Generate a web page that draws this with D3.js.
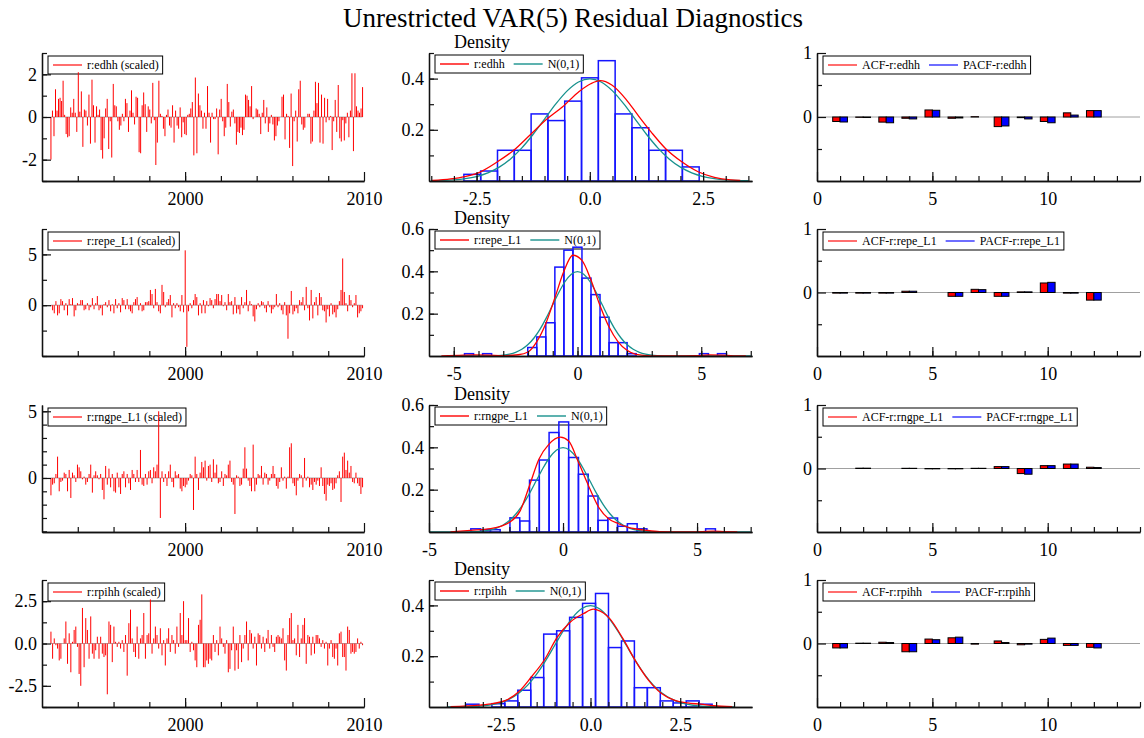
<!DOCTYPE html>
<html lang="en">
<head>
<meta charset="UTF-8" />
<title>Unrestricted VAR(5) Residual Diagnostics</title>
<script src="https://d3js.org/d3.v7.min.js"></script>
<style>
  html, body { margin: 0; background: #fff; }
  svg { display: block; font-family: "Liberation Serif", "Times New Roman", serif; }
</style>
</head>
<body>
<svg id="chart" width="1144" height="738"></svg>
<script>
// ---- data ----
const names = ['edhh', 'repe_L1', 'rngpe_L1', 'rpihh'];

// scaled residuals, monthly, 1992(7) .. 2009(12)
const tsStart = 1992.5, tsEnd = 2009.92;
const resEdhh = [-2.0,0.3,-0.9,1.3,0.3,0.85,0.9,0.75,1.7,0.1,-0.8,-0.95,-0.9,0.45,0.2,0.85,0.2,-0.7,2.1,0.25,1.2,-1.4,0.35,0.3,-0.4,1.05,-1.25,1.75,0.55,-1.2,0.5,0.1,0.35,-1.55,-1.95,-1.0,0.4,0.85,-1.5,-0.2,-1.9,1.55,0.55,0.5,-0.2,-0.6,-0.4,0.15,-0.2,0.85,0.65,-0.7,0.3,1.25,0.2,-0.35,0.95,0.9,-1.65,-1.7,0.55,1.15,0.6,-0.7,0.5,0.35,-0.3,1.6,-0.15,-2.25,-1.2,1.7,0.15,0.05,-0.55,-0.9,0.1,0.35,-0.4,-0.5,0.55,-1.2,0.3,-0.4,-0.55,0.45,-0.95,-0.25,-0.8,-0.85,0.1,0.15,0.4,0.7,-1.8,1.85,-1.7,1.1,0.55,0.3,-0.55,0.2,-0.55,1.45,0.2,-1.2,0.2,-0.1,-0.1,0.4,-1.75,0.35,0.85,-0.2,-0.9,-0.5,1.55,0.7,-0.45,0.25,0.35,-0.3,-1.3,-0.7,-0.75,-0.5,-0.85,-0.6,1.05,1.0,0.8,0.5,1.45,-0.1,0.0,0.4,0.35,0.15,-0.8,0.2,0.8,-0.3,0.45,-0.7,-0.3,0.1,-0.35,-1.1,-0.9,-0.4,-0.2,0.0,0.95,1.05,-1.05,0.15,0.05,-1.45,1.1,-2.3,-0.2,0.3,-1.15,1.3,1.7,-0.35,-0.6,-0.5,0.0,0.15,0.15,-1.25,-1.15,0.3,1.65,0.65,1.6,-1.2,1.05,-1.25,0.9,-0.25,0.85,-0.15,0.05,-1.55,-0.2,0.8,-0.7,1.5,-1.0,-1.15,-0.15,-1.1,-0.3,0.2,-0.95,0.3,2.05,-1.6,2.05,0.5,0.3,0.2,0.4,1.4];
const resRepe = [-0.1,-0.5,-0.8,0.4,-1.0,-0.8,0.6,0.4,-0.5,0.2,-1.0,0.6,0.1,0.7,-1.1,-0.5,0.2,0.1,0.5,0.5,-0.5,-0.4,0.2,-0.5,-0.2,0.7,-0.4,0.2,0.9,-0.5,-0.3,-1.0,0.1,0.3,-0.2,0.5,-0.6,0.1,-0.8,0.6,-0.3,0.2,-0.7,0.7,0.5,-0.4,0.6,-0.4,-0.6,-0.8,0.3,0.6,0.8,-0.5,0.2,-0.6,-0.5,0.3,0.3,0.4,1.5,1.1,-0.3,1.6,0.3,-0.6,-0.8,2.0,1.3,-0.2,0.3,0.6,1.0,-1.2,0.2,-0.3,0.2,-0.2,-0.6,1.0,-0.7,5.4,-4.1,-0.6,0.2,-0.3,0.5,1.1,0.8,-1.0,0.2,-0.8,0.5,-0.8,0.4,-0.1,0.7,0.5,-0.3,0.6,1.1,1.1,0.4,1.0,-0.1,0.3,-0.5,1.1,0.3,0.4,-0.9,0.8,-0.8,-0.4,-0.9,0.8,-0.3,0.3,1.5,-0.6,0.4,0.1,-1.1,-1.6,-0.4,0.2,-0.2,0.4,0.3,-0.3,-0.7,0.4,-0.2,-0.8,-0.4,-0.2,1.1,-0.2,0.2,-0.5,-0.9,0.3,-1.0,-3.3,-0.8,1.4,-0.9,-0.6,-0.3,-0.8,0.5,0.3,0.8,-0.5,1.8,-0.3,-1.5,1.5,-1.3,0.3,0.8,-1.0,1.2,0.8,-0.5,-0.6,-1.7,-0.4,-1.1,0.2,-0.9,-0.7,-1.2,-0.4,0.4,1.5,4.6,1.3,0.2,-0.6,1.0,0.5,-0.2,0.2,1.0,-1.2,-0.8,-0.6,-0.3];
const resRngpe = [-1.3,-0.5,-0.4,0.3,1.6,-1.0,-0.3,-0.2,0.4,0.3,-1.0,0.6,-1.5,0.4,0.2,-0.3,1.0,0.8,0.5,-0.1,0.1,-0.5,-0.3,0.3,1.0,-1.1,0.2,0.5,0.2,-0.1,0.3,-0.9,-1.6,0.9,-0.5,0.7,-0.7,0.3,-1.0,-1.1,0.4,-0.7,-1.2,0.3,0.5,-0.7,0.3,-0.4,-0.9,0.6,0.3,-0.3,0.6,-0.3,2.1,-0.5,-0.6,0.3,-0.5,0.5,0.6,-0.4,0.8,0.5,1.0,5.0,-3.0,0.5,-0.3,0.3,-0.6,0.5,1.0,-0.3,-0.7,0.5,0.2,0.3,-0.8,-1.0,-0.6,-0.7,-0.5,-0.2,0.3,0.2,-2.4,1.6,0.3,-0.9,0.4,1.2,0.8,1.3,-0.2,0.9,1.0,-0.3,1.4,0.4,1.0,-0.4,-0.3,0.5,-0.6,0.3,0.2,1.0,1.3,-0.3,-0.5,-2.7,0.2,0.1,-0.6,-0.5,0.7,2.3,0.7,-0.2,-0.6,-1.0,2.5,-1.0,-0.5,0.3,0.2,0.9,-0.5,0.4,0.3,-0.5,-0.2,0.3,0.9,0.3,-0.6,-0.8,-0.3,0.8,-0.2,0.1,-0.8,0.1,2.3,2.6,-0.4,-0.6,-1.3,-0.2,0.3,0.2,-0.7,1.5,-0.2,0.1,-0.7,-0.5,-0.9,-0.3,-0.5,-0.2,-0.6,0.8,-0.6,-1.2,-1.7,-0.5,-0.6,-0.4,-0.9,-0.8,-0.4,0.2,0.5,-1.8,1.6,1.9,0.6,1.3,0.4,0.9,-0.3,-0.4,0.4,-0.4,-0.6,-1.2,-0.7];
const resRpihh = [0.7,-0.9,0.3,-0.1,-0.3,-1.0,-0.9,0.0,0.3,1.3,-1.2,0.6,-1.7,0.1,0.8,1.0,-0.2,-1.8,-2.5,2.1,-1.4,1.5,0.8,-0.9,1.6,-0.6,-0.9,-0.4,0.4,-0.9,0.4,-0.6,-0.8,-0.7,-3.0,1.3,1.1,-1.1,1.0,0.1,-0.2,0.1,-0.3,0.2,-0.5,0.5,-1.9,1.2,2.0,0.3,-0.5,-0.8,1.0,-0.9,0.3,0.5,1.8,-0.9,0.5,0.6,2.6,-0.6,0.3,1.0,0.5,-0.3,0.9,-0.7,0.2,-1.3,0.3,0.9,-0.5,0.5,0.2,-0.6,1.0,-0.2,1.8,0.5,2.5,0.2,0.2,1.5,-0.5,0.1,-0.4,-1.0,-1.4,1.1,1.4,2.9,-1.4,-1.4,-1.0,-1.2,-0.9,-1.0,0.5,-0.5,0.2,-0.7,1.0,0.3,-0.2,-0.6,0.2,-1.7,-1.5,-0.4,1.0,-1.6,-0.4,-1.5,0.5,-1.1,-0.3,0.5,1.3,-1.0,0.8,0.6,-0.3,0.4,-1.3,0.6,0.5,-0.3,0.4,-0.5,0.3,0.8,-0.3,0.5,-0.2,-0.5,0.4,0.5,0.4,0.3,0.9,-1.0,-1.6,0.5,1.5,1.8,0.2,0.3,-0.7,1.1,-0.8,0.3,1.1,1.5,-1.2,0.5,0.4,-0.7,0.4,-0.6,0.5,0.5,0.3,-0.2,0.2,-0.3,0.1,-1.3,-0.3,0.2,-0.8,-0.9,-0.3,-1.3,0.6,0.7,-0.8,-0.8,-1.6,1.0,0.8,-0.6,-0.5,-0.6,-0.5,0.3,-0.3,0.1,-0.1];

// histograms: first bin edge, bin width, densities
const histStart = [-2.78, -4.565, -3.44, -3.47];
const histWidth = [0.371, 0.365, 0.365, 0.361];
const histEdhh = [0.026,0.039,0.12,0.12,0.262,0.236,0.312,0.403,0.47,0.262,0.208,0.12,0.12,0.055];
const histRepe = [0.011,0,0.011,0,0,0,0,0.04,0.09,0.157,0.42,0.50,0.514,0.368,0.29,0.183,0.063,0.063,0.011,0,0,0,0,0,0,0,0.011,0,0.011];
const histRngpe = [0.015,0.011,0.011,0,0.067,0.052,0.245,0.34,0.47,0.52,0.352,0.273,0.17,0.055,0.066,0.027,0.039,0.015,0,0,0,0,0,0,0.015];
const histRpihh = [0.011,0,0.013,0.024,0.066,0.116,0.287,0.30,0.353,0.408,0.447,0.234,0.26,0.076,0.076,0.024,0.016,0.024,0.011];

// estimated densities (red)
const kdeXEdhh = [-3.48,-3.07,-2.76,-2.45,-2.04,-1.68,-1.32,-0.96,-0.60,-0.235,0.02,0.23,0.485,0.795,1.05,1.36,1.67,2.03,2.39,2.75,3.11,3.32];
const kdeYEdhh = [0.002,0.008,0.017,0.033,0.075,0.12,0.18,0.24,0.29,0.35,0.38,0.392,0.375,0.32,0.26,0.19,0.127,0.075,0.036,0.014,0.004,0.002];
const kdeXRepe = [-5.5,-4.6,-4.2,-3.6,-3.0,-2.4,-2.0,-1.65,-1.28,-0.92,-0.55,-0.19,0.18,0.54,0.9,1.27,1.64,2.0,2.36,3.0,4.0,4.8,5.3,5.8,6.3,6.8];
const kdeYRepe = [0.0,0.004,0.005,0.004,0.002,0.006,0.019,0.067,0.154,0.273,0.40,0.476,0.452,0.36,0.241,0.138,0.067,0.027,0.008,0.001,0.0,0.002,0.005,0.004,0.001,0.0];
const kdeXRngpe = [-4.2,-3.45,-2.7,-2.3,-1.98,-1.6,-1.25,-0.9,-0.53,-0.1,0.21,0.58,0.95,1.33,1.7,2.07,2.4,2.8,3.1,3.6,4.5,5.2,5.6,6.0,6.5];
const kdeYRngpe = [0.001,0.008,0.016,0.028,0.047,0.10,0.22,0.344,0.414,0.448,0.43,0.328,0.219,0.117,0.0625,0.039,0.023,0.013,0.008,0.002,0.0,0.002,0.004,0.002,0.0];
const kdeXRpihh = [-3.9,-3.1,-2.7,-2.36,-2.0,-1.65,-1.29,-0.93,-0.56,-0.19,0.08,0.18,0.53,0.9,1.27,1.62,1.98,2.35,2.7,3.07,3.43,3.95];
const kdeYRpihh = [0.001,0.007,0.014,0.026,0.06,0.118,0.184,0.274,0.335,0.368,0.385,0.382,0.349,0.27,0.178,0.105,0.053,0.026,0.016,0.011,0.005,0.001];

// N(0,1) reference curve (teal)
const normX = [-6,-5,-4,-3.5,-3,-2.75,-2.5,-2.25,-2,-1.75,-1.5,-1.25,-1,-0.75,-0.5,-0.25,0,0.25,0.5,0.75,1,1.25,1.5,1.75,2,2.25,2.5,2.75,3,3.5,4,5,6,7];
const normY = [0,0,0.0001,0.0009,0.0044,0.0091,0.0175,0.0317,0.054,0.0863,0.1295,0.1826,0.242,0.3011,0.352,0.3867,0.399,0.3867,0.352,0.3011,0.242,0.1826,0.1295,0.0863,0.054,0.0317,0.0175,0.0091,0.0044,0.0009,0.0001,0,0,0];
const normRange = [[-3.4, 3.1], [-5.2, 6.8], [-4.4, 6.8], [-3.9, 4.0]];

// correlograms, lags 1..12
const acfEdhh  = [-0.07,-0.005,-0.08,-0.02,0.11,-0.02,0.005,-0.15,-0.01,-0.07,0.065,0.1];
const pacfEdhh = [-0.078,-0.008,-0.09,-0.03,0.105,-0.015,0.0,-0.14,-0.03,-0.09,0.03,0.1];
const acfRepe  = [-0.01,-0.01,-0.01,0.02,0.0,-0.06,0.05,-0.06,0.01,0.15,-0.01,-0.12];
const pacfRepe = [-0.01,-0.01,-0.01,0.02,0.0,-0.06,0.045,-0.06,0.01,0.16,-0.01,-0.12];
const acfRngpe  = [0.0,0.005,0.0,0.003,-0.005,-0.005,0.003,0.03,-0.08,0.045,0.07,0.02];
const pacfRngpe = [0.0,0.005,0.0,0.003,-0.005,-0.005,0.003,0.03,-0.09,0.045,0.07,0.015];
const acfRpihh  = [-0.07,0.005,0.02,-0.13,0.07,0.09,-0.01,0.04,-0.02,0.065,-0.03,-0.06];
const pacfRpihh = [-0.07,0.005,0.015,-0.13,0.06,0.1,0.0,0.015,-0.01,0.085,-0.03,-0.07];

const residuals = [resEdhh, resRepe, resRngpe, resRpihh];
const hists = [histEdhh, histRepe, histRngpe, histRpihh];
const kdeX = [kdeXEdhh, kdeXRepe, kdeXRngpe, kdeXRpihh];
const kdeY = [kdeYEdhh, kdeYRepe, kdeYRngpe, kdeYRpihh];
const acfs = [acfEdhh, acfRepe, acfRngpe, acfRpihh];
const pacfs = [pacfEdhh, pacfRepe, pacfRngpe, pacfRpihh];

// ---- layout ----
const rowTop = [53, 229, 405, 580];
const rowBot = [181, 356, 532, 707];
const RED = '#ff0000', BLUE = '#0000ff', TEAL = '#17918d';

const svg = d3.select('#chart');
const panelLayer = svg.append('g');
const axisLayer = svg.append('g');

svg.append('text')
  .attr('x', 573).attr('y', 27)
  .attr('text-anchor', 'middle')
  .attr('font-size', 27)
  .text('Unrestricted VAR(5) Residual Diagnostics');

const fmtInt = d => String(d);
const fmt1 = d => d.toFixed(1);

function styleAxis(sel) {
  sel.attr('font-family', null).attr('font-size', 18);
  sel.selectAll('path.domain').attr('stroke', '#111').attr('stroke-width', 1.3);
  sel.selectAll('line').attr('stroke', '#111').attr('stroke-width', 1.2);
  sel.selectAll('text').attr('fill', '#000');
}

// axes go into their own layer, drawn above every panel
function drawAxes(x, y, o) {
  const g = axisLayer.append('g');
  const x0 = x.range()[0], y0 = y.range()[0];
  g.append('g').attr('transform', `translate(${x0},0)`)
    .call(d3.axisLeft(y).tickValues(o.yMinor).tickSize(-5).tickSizeOuter(0).tickFormat(''))
    .call(styleAxis);
  g.append('g').attr('transform', `translate(${x0},0)`)
    .call(d3.axisLeft(y).tickValues(o.yMajor).tickSize(-9).tickSizeOuter(0).tickPadding(5).tickFormat(o.yFmt))
    .call(styleAxis);
  g.append('g').attr('transform', `translate(0,${y0})`)
    .call(d3.axisBottom(x).tickValues(o.xMinor).tickSize(-5).tickSizeOuter(0).tickFormat(''))
    .call(styleAxis);
  g.append('g').attr('transform', `translate(0,${y0})`)
    .call(d3.axisBottom(x).tickValues(o.xMajor).tickSize(-9).tickSizeOuter(0).tickPadding(11).tickFormat(o.xFmt))
    .call(styleAxis);
}

function legend(g, x0, y0, items) {
  const lg = g.append('g');
  const box = lg.append('rect')
    .attr('x', x0).attr('y', y0).attr('height', 18)
    .attr('fill', '#fff').attr('stroke', '#000').attr('stroke-width', 1);
  let cx = x0 + 5;
  items.forEach(it => {
    lg.append('line')
      .attr('x1', cx).attr('x2', cx + 29)
      .attr('y1', y0 + 9).attr('y2', y0 + 9)
      .attr('stroke', it.color).attr('stroke-width', 1.4);
    cx += 34;
    const t = lg.append('text')
      .attr('x', cx).attr('y', y0 + 13)
      .attr('font-size', 12)
      .text(it.label);
    cx += t.node().getComputedTextLength() + 9;
  });
  box.attr('width', cx - 5 - x0);
}

// column settings
const tsDomain = [[-3, 3], [-5, 7.5], [-4.05, 5.47], [-3.75, 3.75]];
const tsMinor = [d3.range(-3, 3.01, 1), d3.range(-5, 7.51, 2.5), d3.range(-4, 5.01, 1), d3.range(-3.75, 3.76, 1.25)];
const tsMajor = [[-2, 0, 2], [0, 5], [0, 5], [-2.5, 0, 2.5]];
const tsFmt = [fmtInt, fmtInt, fmtInt, fmt1];

const denXDomain = [[-3.55, 3.58], [-6, 7.05], [-5, 7.05], [-4.5, 4.5]];
const denYDomain = [[0, 0.5], [0, 0.6], [0, 0.6], [0, 0.5]];
const denXMinor = [d3.range(-3.5, 3.51, 0.5), d3.range(-5, 7.01, 1), d3.range(-4, 7.01, 1), d3.range(-4, 4.01, 0.5)];
const denXMajor = [[-2.5, 0, 2.5], [-5, 0, 5], [-5, 0, 5], [-2.5, 0, 2.5]];
const denXFmt = [fmt1, fmtInt, fmtInt, fmt1];

for (let r = 0; r < 4; r++) {
  const top = rowTop[r], bot = rowBot[r];

  // --- residual series ---
  {
    const g = panelLayer.append('g');
    const x = d3.scaleLinear().domain([1992, 2010]).range([42, 364]);
    const y = d3.scaleLinear().domain(tsDomain[r]).range([bot, top]);
    const vals = residuals[r];
    const step = (tsEnd - tsStart) / (vals.length - 1);
    const pts = vals.map((v, i) => ({ t: tsStart + i * step, v }));

    legend(g, 48, top + 3, [{ label: `r:${names[r]} (scaled)`, color: '#ff3030' }]);

    g.append('line')
      .attr('x1', x(tsStart)).attr('x2', x(tsEnd))
      .attr('y1', y(0)).attr('y2', y(0))
      .attr('stroke', '#b0b0b0').attr('stroke-width', 1);

    g.append('g').selectAll('line')
      .data(pts)
      .join('line')
      .attr('x1', d => x(d.t)).attr('x2', d => x(d.t))
      .attr('y1', y(0)).attr('y2', d => y(d.v))
      .attr('stroke', RED).attr('stroke-width', 1);

    drawAxes(x, y, {
      yMinor: tsMinor[r], yMajor: tsMajor[r], yFmt: tsFmt[r],
      xMinor: d3.range(1994, 2009, 2), xMajor: [2000, 2010], xFmt: fmtInt
    });
  }

  // --- density ---
  {
    const g = panelLayer.append('g');
    const x = d3.scaleLinear().domain(denXDomain[r]).range([429, 752]);
    const y = d3.scaleLinear().domain(denYDomain[r]).range([bot, top]);

    g.append('text')
      .attr('x', 454).attr('y', top - 5)
      .attr('font-size', 18)
      .text('Density');

    legend(g, 435, top + 2, [
      { label: `r:${names[r]}`, color: RED },
      { label: 'N(0,1)', color: TEAL }
    ]);

    const bins = hists[r].map((h, i) => ({ x0: histStart[r] + i * histWidth[r], h }))
      .filter(b => b.h > 0);
    g.append('g').selectAll('rect')
      .data(bins)
      .join('rect')
      .attr('x', d => x(d.x0))
      .attr('width', d => x(d.x0 + histWidth[r]) - x(d.x0))
      .attr('y', d => y(d.h))
      .attr('height', d => y(0) - y(d.h))
      .attr('fill', 'none')
      .attr('stroke', '#1515ff').attr('stroke-width', 1.5);

    const line = d3.line()
      .x(d => x(d[0])).y(d => y(d[1]))
      .curve(d3.curveMonotoneX);

    const nr = normRange[r];
    const normPts = normX.map((v, i) => [v, normY[i]])
      .filter(p => p[0] >= nr[0] - 0.6 && p[0] <= nr[1] + 0.6)
      .filter(p => p[0] >= denXDomain[r][0] && p[0] <= denXDomain[r][1]);
    g.append('path')
      .attr('d', line(normPts))
      .attr('fill', 'none').attr('stroke', TEAL).attr('stroke-width', 1.3);

    const kPts = kdeX[r].map((v, i) => [v, kdeY[r][i]]);
    g.append('path')
      .attr('d', line(kPts))
      .attr('fill', 'none').attr('stroke', RED).attr('stroke-width', 1.3);

    drawAxes(x, y, {
      yMinor: d3.range(0.1, denYDomain[r][1] + 0.001, 0.1),
      yMajor: denYDomain[r][1] > 0.55 ? [0.2, 0.4, 0.6] : [0.2, 0.4], yFmt: fmt1,
      xMinor: denXMinor[r], xMajor: denXMajor[r], xFmt: denXFmt[r]
    });
  }

  // --- ACF / PACF ---
  {
    const g = panelLayer.append('g');
    const x = d3.scaleLinear().domain([0, 14]).range([817, 1140]);
    const y = d3.scaleLinear().domain([-1, 1]).range([bot, top]);

    legend(g, 823, top + 3, [
      { label: `ACF-r:${names[r]}`, color: '#ff3030' },
      { label: `PACF-r:${names[r]}`, color: '#3030ff' }
    ]);

    g.append('line')
      .attr('x1', x(0)).attr('x2', x(14))
      .attr('y1', y(0)).attr('y2', y(0))
      .attr('stroke', '#a0a0a0').attr('stroke-width', 1);

    const w = 0.32;
    const bars = [];
    acfs[r].forEach((v, i) => bars.push({ a: i + 1 - w, b: i + 1, v, c: RED }));
    pacfs[r].forEach((v, i) => bars.push({ a: i + 1, b: i + 1 + w, v, c: BLUE }));
    g.append('g').selectAll('rect')
      .data(bars)
      .join('rect')
      .attr('x', d => x(d.a))
      .attr('width', d => x(d.b) - x(d.a))
      .attr('y', d => y(Math.max(0, d.v)))
      .attr('height', d => Math.abs(y(d.v) - y(0)))
      .attr('fill', d => d.c)
      .attr('stroke', '#000').attr('stroke-width', 1);

    drawAxes(x, y, {
      yMinor: [-0.5, 0.5], yMajor: [0, 1], yFmt: fmtInt,
      xMinor: d3.range(1, 14.01, 1), xMajor: [0, 5, 10], xFmt: fmtInt
    });
  }
}
</script>
</body>
</html>
